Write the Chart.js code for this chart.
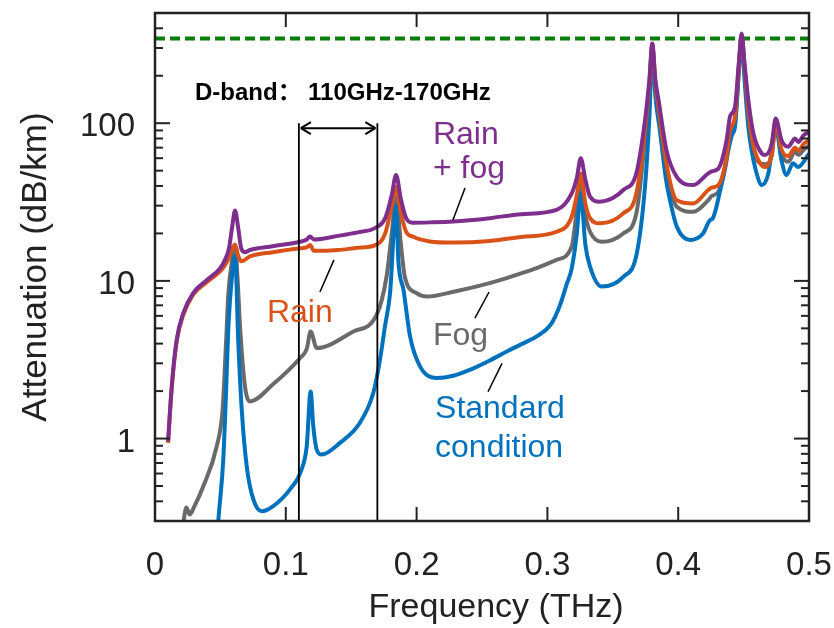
<!DOCTYPE html>
<html>
<head>
<meta charset="utf-8">
<title>Attenuation vs frequency</title>
<script src="https://cdn.jsdelivr.net/npm/chart.js@4.4.1/dist/chart.umd.min.js"></script>
<style>
  html, body { margin: 0; padding: 0; background: #fff; }
  #wrap { width: 834px; height: 628px; }
</style>
</head>
<body>
<div id="wrap"><canvas id="chart" width="834" height="628"></canvas></div>
<script>
// =========================
// DATA (frequency in THz, attenuation in dB/km)
// =========================
const rainFogFreq = [0.010, 0.0128, 0.0166, 0.0217, 0.0293, 0.0395, 0.0497, 0.0535, 0.0565, 0.0590, 0.0612, 0.0635, 0.0660, 0.0690, 0.0726,
  0.090, 0.111, 0.116, 0.1185, 0.1215, 0.140, 0.155, 0.168, 0.176, 0.181, 0.1843, 0.188, 0.192, 0.197, 0.210, 0.228, 0.256, 0.280,
  0.307, 0.3186, 0.3225, 0.3255, 0.3290, 0.3326, 0.340, 0.350, 0.358, 0.368, 0.3746, 0.378, 0.3802, 0.3825, 0.385, 0.391, 0.3989,
  0.4116, 0.423, 0.4255, 0.4307, 0.437, 0.4396, 0.4434, 0.4465, 0.4485, 0.4505, 0.4536, 0.4575, 0.4638, 0.4664, 0.4715, 0.4745,
  0.479, 0.4842, 0.4893, 0.4918, 0.496, 0.500];
const rainFogAtt = [0.96, 2.14, 4.23, 6.27, 8.4, 10.1, 12.0, 13.6, 16, 22, 28, 22, 16, 15.2, 15.7,
  16.6, 17.7, 18.3, 19.1, 18.3, 19.3, 20.3, 21.6, 25, 35, 47, 33, 25, 23.4, 23.5, 23.8, 25, 26.5,
  28.2, 35.9, 45, 60, 44, 34.2, 31.8, 33.5, 37.7, 48.1, 104, 190, 320, 190, 140, 67.5, 45.7,
  40.5, 48.1, 49.5, 51.5, 78, 110, 127, 250, 370, 250, 140, 86, 64.3, 62.9, 74.2, 107,
  78, 71, 80, 76, 84, 88];

const rainFreq = [0.010, 0.0128, 0.0166, 0.0217, 0.0293, 0.0395, 0.0497, 0.0535, 0.0565, 0.0590, 0.0612, 0.0635, 0.0660, 0.0726,
  0.090, 0.111, 0.116, 0.1185, 0.1215, 0.140, 0.155, 0.168, 0.176, 0.181, 0.1843, 0.188, 0.192, 0.197, 0.210, 0.228, 0.256, 0.280,
  0.307, 0.3186, 0.3225, 0.3255, 0.3290, 0.3326, 0.340, 0.358, 0.368, 0.3746, 0.378, 0.3802, 0.3825, 0.385, 0.391, 0.3989,
  0.4116, 0.423, 0.4255, 0.4307, 0.437, 0.4396, 0.4434, 0.4465, 0.4485, 0.4505, 0.4536, 0.4575, 0.4638, 0.4664, 0.4715, 0.4745,
  0.479, 0.4842, 0.4893, 0.4918, 0.496, 0.500];
const rainAtt = [0.94, 2.1, 4.15, 6.1, 8.2, 9.8, 11.5, 12.6, 14, 16, 17, 14.5, 13.3, 14.3,
  15.2, 16.1, 16.3, 16.9, 15.5, 15.7, 16.2, 16.8, 20, 30, 39.5, 27, 20.5, 19.1, 17.8, 17.5, 17.9, 19,
  20.5, 25.5, 35, 48, 31, 25, 23.2, 26.8, 35.9, 90, 180, 315, 180, 125, 55, 32.5,
  31.0, 37.7, 39, 40.5, 61, 90, 110, 240, 365, 240, 120, 72, 54, 52.7, 64, 100,
  68, 62, 70, 67, 74, 78];

const fogFreq = [0.0213, 0.0240, 0.0265, 0.030, 0.037, 0.0472, 0.0517, 0.0543, 0.0561, 0.0590, 0.0612, 0.0632, 0.065, 0.0688, 0.0726,
  0.090, 0.111, 0.116, 0.119, 0.1236, 0.1516, 0.1695, 0.177, 0.181, 0.1843, 0.188, 0.191, 0.200, 0.2077, 0.230, 0.250, 0.270, 0.290,
  0.307, 0.3186, 0.3225, 0.3255, 0.329, 0.3326, 0.3415, 0.358, 0.368, 0.3746, 0.378, 0.3802, 0.3825, 0.385, 0.391, 0.3989,
  0.4116, 0.423, 0.4255, 0.4307, 0.437, 0.4396, 0.4434, 0.4465, 0.4485, 0.4505, 0.4536, 0.4575, 0.4625, 0.4664, 0.4715, 0.4745,
  0.479, 0.4842, 0.4893, 0.4918, 0.496, 0.500];
const fogAtt = [0.28, 0.366, 0.33, 0.37, 0.50, 0.894, 1.53, 4.04, 8.35, 13.5, 16.5, 10, 5.14, 2.14, 1.72,
  2.20, 3.24, 3.7, 4.77, 3.75, 4.77, 6.1, 10.6, 20, 34.2, 17, 10.6, 8.35, 7.95, 8.6, 9.4, 10.5, 11.9,
  13.6, 16.5, 28, 41, 26, 20.5, 17.7, 20.0, 26.8, 80, 170, 310, 170, 115, 50, 29.5,
  27.4, 32.5, 34.5, 36.7, 58, 85, 100, 230, 360, 230, 110, 68, 55.7, 55, 62, 98,
  64, 57, 66, 63, 68, 72];

const stdFreq = [0.0470, 0.0484, 0.0522, 0.0543, 0.0561, 0.0590, 0.0612, 0.0637, 0.0663, 0.0701, 0.0752, 0.0816, 0.0904,
  0.1032, 0.112, 0.116, 0.119, 0.121, 0.1236, 0.1274, 0.1414, 0.1567, 0.1669, 0.172, 0.1758, 0.1797, 0.1843, 0.186, 0.190,
  0.195, 0.2026, 0.2154, 0.228, 0.2408, 0.255, 0.270, 0.285, 0.2918, 0.3033, 0.3096, 0.3147, 0.3186, 0.3225, 0.3255, 0.329, 0.3326, 0.3415,
  0.358, 0.3683, 0.3746, 0.378, 0.3802, 0.3825, 0.386, 0.3905, 0.3937, 0.3989, 0.409, 0.419, 0.4243, 0.4265, 0.4327,
  0.441, 0.4434, 0.4465, 0.4485, 0.4505, 0.4536, 0.4561, 0.460, 0.4638, 0.4689, 0.4745, 0.479, 0.4828, 0.4878, 0.4916, 0.500];
const stdAtt = [0.2, 0.30, 0.736, 1.95, 5.14, 11, 14.5, 4.04, 1.53, 0.668, 0.411, 0.346, 0.373,
  0.476, 0.636, 0.894, 1.99, 1.20, 0.852, 0.792, 0.939, 1.26, 1.95, 3.16, 5.14, 8.35, 30, 13.6, 8.76,
  4.44, 2.87, 2.42, 2.5, 2.73, 3.1, 3.6, 4.15, 4.44, 5.4, 7.0, 9.5, 12, 20, 36, 17, 12.3, 9.2,
  10.6, 14.9, 39.5, 110, 300, 150, 90, 45, 32.5, 22.1, 18.2, 20.0, 24.3, 25, 39.5,
  83.7, 95, 220, 350, 200, 95, 67.5, 48, 40.5, 48, 95, 58, 46.9, 55.7, 52.7, 64];

const refLevel = 345;            // dashed reference line
const dBand = [0.11, 0.17];      // D-band edges, THz
const dBandTop = 100;

const xTicks = [0, 0.1, 0.2, 0.3, 0.4, 0.5];
const xTickLabels = ["0", "0.1", "0.2", "0.3", "0.4", "0.5"];
const yTicks = [1, 10, 100];
const yTickLabels = ["1", "10", "100"];

const PURPLE = "#7E2F8E", ORANGE = "#D95319", GRAY = "#6A6A6A", BLUE = "#0072BD", GREEN = "#0a7d0a";
const TEXT = "#222";
const FONT = "'Liberation Sans', Arial, sans-serif";

// curve labels, anchored in data coordinates (left x, baseline)
const curveLabels = [
  { text: "Rain", f: 0.2125, v: 73.8, color: PURPLE },
  { text: "+ fog", f: 0.2125, v: 44.9, color: PURPLE },
  { text: "Rain", f: 0.0856, v: 5.49, color: ORANGE },
  { text: "Fog", f: 0.2125, v: 3.92, color: GRAY },
  { text: "Standard", f: 0.2141, v: 1.351, color: BLUE },
  { text: "condition", f: 0.2141, v: 0.764, color: BLUE }
];
// leader lines [f1, v1, f2, v2]
const leaders = [
  [0.237, 38.8, 0.2278, 24.3],
  [0.1368, 13.6, 0.1261, 8.5],
  [0.2554, 8.5, 0.2446, 5.8],
  [0.2653, 3.0, 0.2546, 1.98]
];

const toPts = (fs, vs) => fs.map((f, i) => ({ x: f, y: vs[i] }));

function curve(label, fs, vs, color) {
  return {
    label,
    data: toPts(fs, vs),
    borderColor: color,
    borderWidth: 4,
    pointRadius: 0,
    cubicInterpolationMode: "monotone",
    fill: false
  };
}

function straight(label, pts, color, width, dash) {
  return {
    label,
    data: pts,
    borderColor: color,
    borderWidth: width,
    borderDash: dash || [],
    pointRadius: 0,
    tension: 0,
    fill: false
  };
}

// =========================
// FRAME, INNER TICKS, ANNOTATIONS
// =========================
const framePlugin = {
  id: "frame",
  afterDatasetsDraw(chart) {
    const { ctx, chartArea: a, scales: { x, y } } = chart;
    const seg = (x1, y1, x2, y2) => { ctx.beginPath(); ctx.moveTo(x1, y1); ctx.lineTo(x2, y2); ctx.stroke(); };
    ctx.save();
    ctx.strokeStyle = TEXT;
    ctx.lineWidth = 2;

    xTicks.forEach(v => {
      if (v <= x.min || v >= x.max) return;
      const px = x.getPixelForValue(v);
      seg(px, a.bottom, px, a.bottom - 14);
      seg(px, a.top, px, a.top + 14);
    });

    for (let d = -1; d <= 2; d++) {
      for (let m = 1; m <= 9; m++) {
        const v = m * Math.pow(10, d);
        if (v <= y.min * 1.01 || v >= y.max * 0.99) continue;
        const py = y.getPixelForValue(v);
        const len = m === 1 ? 15 : 8;
        seg(a.left, py, a.left + len, py);
        seg(a.right, py, a.right - len, py);
      }
    }

    ctx.lineWidth = 2.5;
    ctx.strokeRect(a.left, a.top, a.width, a.height);

    // D-band arrow
    const ay = y.getPixelForValue(93);
    const ax1 = x.getPixelForValue(dBand[0]) + 2;
    const ax2 = x.getPixelForValue(dBand[1]) - 2;
    ctx.strokeStyle = "#000";
    ctx.lineWidth = 2;
    seg(ax1, ay, ax2, ay);
    seg(ax1, ay, ax1 + 10, ay - 6); seg(ax1, ay, ax1 + 10, ay + 6);
    seg(ax2, ay, ax2 - 10, ay - 6); seg(ax2, ay, ax2 - 10, ay + 6);

    ctx.lineWidth = 1.5;
    leaders.forEach(([f1, v1, f2, v2]) => {
      seg(x.getPixelForValue(f1), y.getPixelForValue(v1), x.getPixelForValue(f2), y.getPixelForValue(v2));
    });

    ctx.textBaseline = "alphabetic";
    ctx.textAlign = "left";
    ctx.font = "32px " + FONT;
    curveLabels.forEach(l => {
      ctx.fillStyle = l.color;
      ctx.fillText(l.text, x.getPixelForValue(l.f), y.getPixelForValue(l.v));
    });

    // band caption: name, then the range after a wide gap
    ctx.fillStyle = "#000";
    ctx.font = "bold 24px 'Liberation Sans', 'Noto Sans CJK SC', sans-serif";
    const capY = y.getPixelForValue(140);
    ctx.fillText("D-band：", x.getPixelForValue(0.0306), capY);
    ctx.fillText("110GHz-170GHz", x.getPixelForValue(0.117), capY);

    // x axis title
    ctx.fillStyle = TEXT;
    ctx.font = "34px " + FONT;
    ctx.textAlign = "center";
    ctx.fillText("Frequency (THz)", (a.left + a.right) / 2 + 14, 617);
    ctx.restore();
  }
};

// =========================
// CHART
// =========================
const canvas = document.getElementById("chart");
const ctx = canvas.getContext("2d");

new Chart(ctx, {
  type: "line",
  data: {
    datasets: [
      straight("D-band low", [{ x: dBand[0], y: 0.3 }, { x: dBand[0], y: dBandTop }], "#000", 1.8),
      straight("D-band high", [{ x: dBand[1], y: 0.3 }, { x: dBand[1], y: dBandTop }], "#000", 1.8),
      curve("Rain + fog", rainFogFreq, rainFogAtt, PURPLE),
      curve("Rain", rainFreq, rainAtt, ORANGE),
      curve("Standard condition", stdFreq, stdAtt, BLUE),
      curve("Fog", fogFreq, fogAtt, GRAY),
      straight("Reference", [{ x: 0, y: refLevel }, { x: 0.5, y: refLevel }], GREEN, 4, [10, 5])
    ]
  },
  options: {
    responsive: false,
    devicePixelRatio: 1,
    animation: false,
    layout: { padding: { left: 0, right: 25, top: 13, bottom: 0 } },
    plugins: {
      legend: { display: false },
      tooltip: { enabled: false }
    },
    scales: {
      x: {
        type: "linear",
        min: 0,
        max: 0.5,
        afterBuildTicks: s => { s.ticks = xTicks.map(v => ({ value: v })); },
        // fixed band height; edge labels must not push the plot area inwards
        afterFit: s => { s.height = 107; s.paddingLeft = 0; s.paddingRight = 0; },
        grid: { display: false, drawTicks: false },
        border: { display: false },
        ticks: {
          autoSkip: false,
          maxRotation: 0,
          padding: 25,
          color: TEXT,
          font: { family: FONT, size: 33 },
          callback: (v, i) => xTickLabels[i]
        }
      },
      y: {
        type: "logarithmic",
        min: 0.3,
        max: 500,
        afterBuildTicks: s => { s.ticks = yTicks.map(v => ({ value: v })); },
        afterFit: s => { s.width = 155; s.paddingTop = 0; s.paddingBottom = 0; },
        grid: { display: false, drawTicks: false },
        border: { display: false },
        ticks: {
          autoSkip: false,
          padding: 20,
          labelOffset: 4,
          color: TEXT,
          font: { family: FONT, size: 33 },
          callback: (v, i) => yTickLabels[i]
        },
        title: {
          display: true,
          text: "Attenuation (dB/km)",
          color: TEXT,
          font: { family: FONT, size: 35, lineHeight: 1.2 },
          padding: { top: 15, bottom: 0 }
        }
      }
    }
  },
  plugins: [framePlugin]
});
</script>
</body>
</html>
